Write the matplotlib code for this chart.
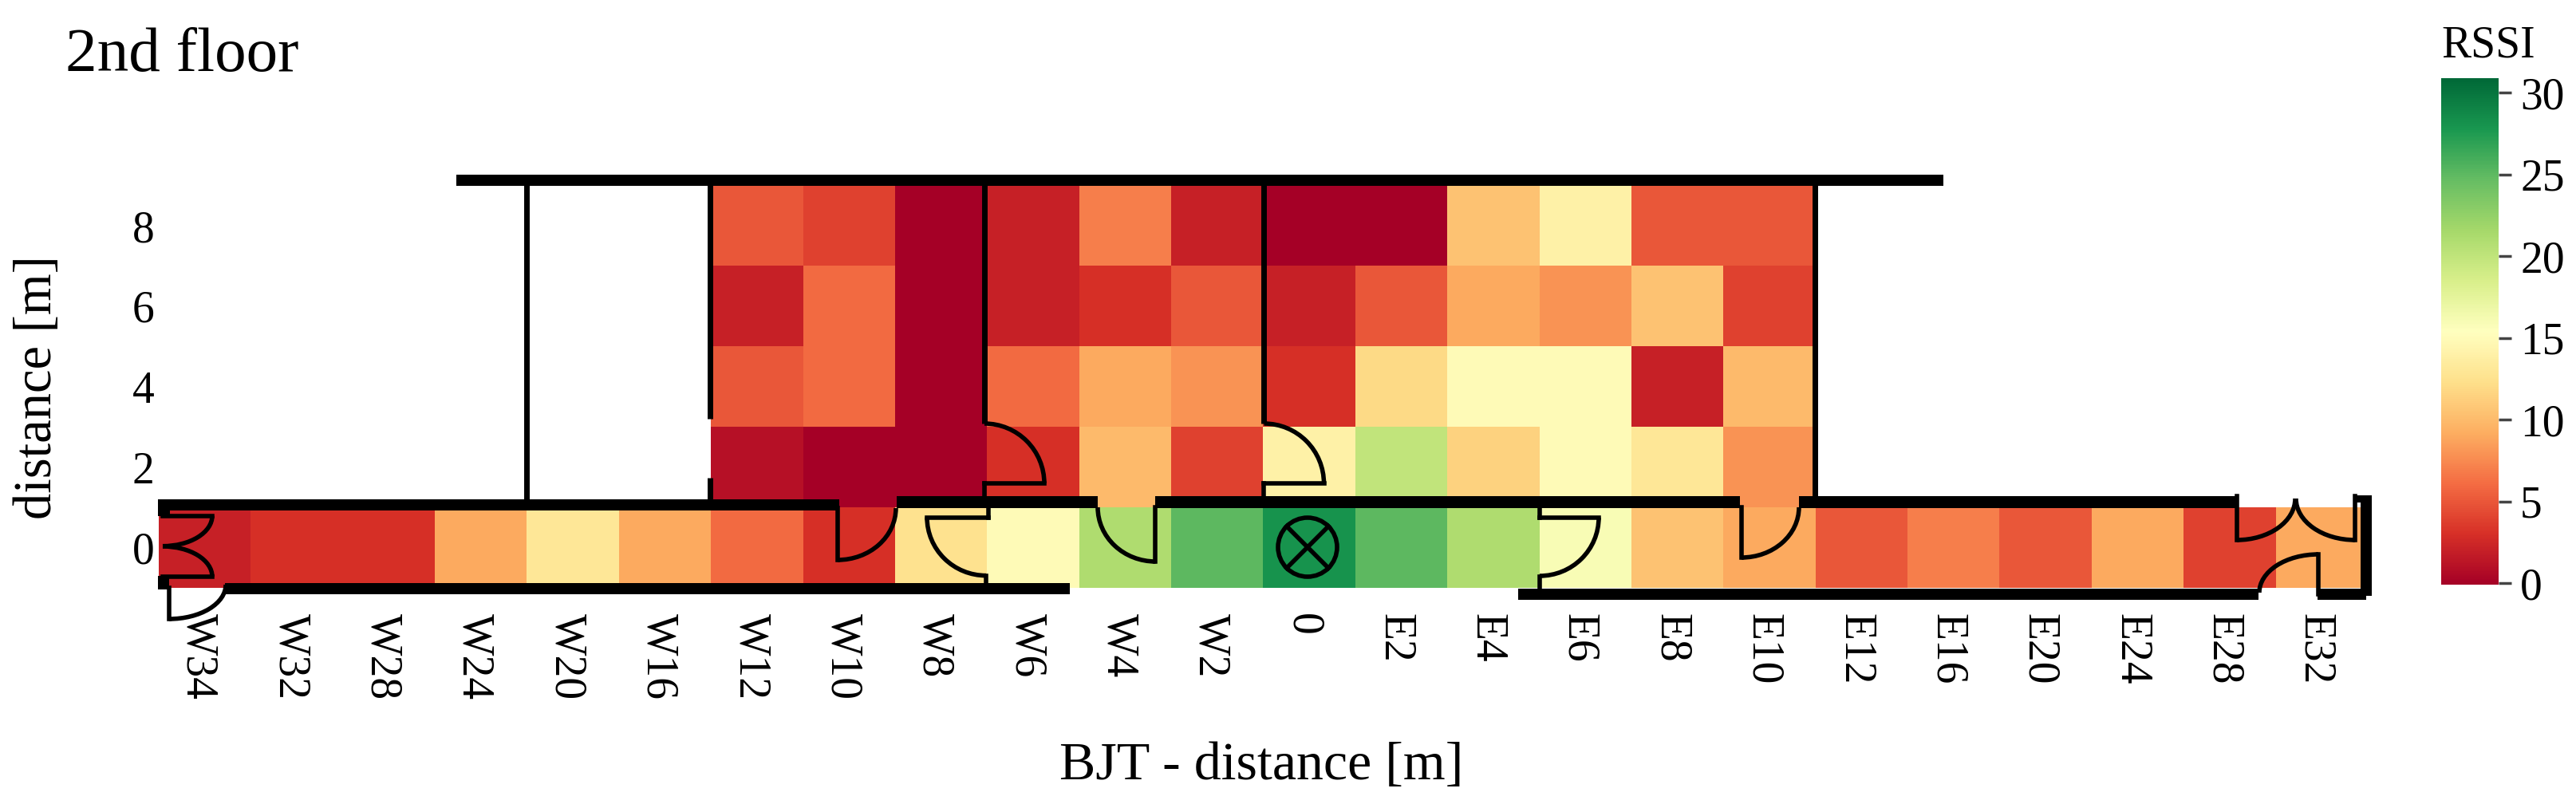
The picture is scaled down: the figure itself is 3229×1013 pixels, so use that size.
"""
RSSI heatmap of the 2nd floor with the floor plan drawn over it.
"""

import numpy as np
import matplotlib
matplotlib.use('Agg')
import matplotlib.pyplot as plt
from matplotlib.patches import Arc, Circle, Rectangle
from matplotlib.transforms import ScaledTranslation

plt.rcParams['font.family'] = ['Liberation Serif', 'DejaVu Serif']

W, H = 3230, 1013

# Data
x_labels = ['W34', 'W32', 'W28', 'W24', 'W20', 'W16', 'W12', 'W10', 'W8', 'W6', 'W4', 'W2',
            '0', 'E2', 'E4', 'E6', 'E8', 'E10', 'E12', 'E16', 'E20', 'E24', 'E28', 'E32']
y_labels = ['8', '6', '4', '2', '0']
nan = np.nan
row_8m = [nan] * 6 + [5, 4, 0, 2, 7, 2, 0, 0, 10.5, 14, 5, 5] + [nan] * 6
row_6m = [nan] * 6 + [2, 6, 0, 2, 3, 5, 2, 5, 9, 8, 10.5, 4] + [nan] * 6
row_4m = [nan] * 6 + [5, 6, 0, 6, 9, 8, 3, 12, 15, 15, 2, 10] + [nan] * 6
row_2m = [nan] * 6 + [1, 0, 0, 3, 10, 4, 14, 20, 11.5, 15, 13, 8] + [nan] * 6
row_0m = [2, 3, 3, 9, 13, 9, 6, 3, 12.5, 15, 21, 25, 28, 25, 21, 16, 10.5, 9, 5, 7, 5, 9, 4, 9]
cbar_ticks = [0, 5, 10, 15, 20, 25, 30]


def px_box(x0, y0, x1, y1):
    """Figure fractions for a box given in image pixels."""
    return [x0 / W, 1 - y1 / H, (x1 - x0) / W, (y1 - y0) / H]


fig = plt.figure(figsize=(W / 100, H / 100), dpi=100)

# Heatmap
ax = fig.add_axes(px_box(199, 232.6, 2968, 737))
values = np.ma.masked_invalid(np.array([row_8m, row_6m, row_4m, row_2m, row_0m]))
im = ax.imshow(values, cmap='RdYlGn', vmin=-0.1, vmax=30.9, aspect='auto', interpolation='nearest')
for spine in ax.spines.values():
    spine.set_visible(False)
ax.set_xticks(np.arange(len(x_labels)))
ax.set_xticklabels(x_labels, rotation=-90, fontsize=40)
ax.set_yticks(np.arange(len(y_labels)))
ax.set_yticklabels(y_labels, fontsize=40)
ax.tick_params(axis='x', length=0, pad=23)
ax.tick_params(axis='y', length=0, pad=4)
shift = ScaledTranslation(-8 / 100, 0, fig.dpi_scale_trans)
for label in ax.get_xticklabels():
    label.set_transform(label.get_transform() + shift)

fig.text(1581 / W, 1 - 977 / H, 'BJT - distance [m]', fontsize=49, ha='center', va='baseline')
fig.text(48 / W, 1 - 486 / H, 'distance [m]', fontsize=48, rotation=90, ha='center', va='center')
fig.text(82 / W, 1 - 89 / H, '2nd floor', fontsize=57, ha='left', va='baseline')
fig.text(3060 / W, 1 - 71 / H, 'RSSI', fontsize=40, ha='left', va='baseline')

# Colorbar
cax = fig.add_axes(px_box(3060, 98, 3132, 733.4))
cbar = fig.colorbar(im, cax=cax, ticks=cbar_ticks)
cbar.outline.set_visible(False)
cax.tick_params(length=11.5, width=2.5, color='#444444', pad=8, labelsize=40)

# Floor plan, in image pixels
plan = fig.add_axes([0, 0, 1, 1])
plan.set_xlim(0, W)
plan.set_ylim(H, 0)
plan.axis('off')
plan.patch.set_alpha(0)

thick_walls = [
    (572, 219, 2436, 232.6),    # top of the rooms
    (198, 626, 1052, 640),      # corridor, upper side
    (1123.7, 622, 1376, 636.7),
    (1448.5, 622, 2181, 636.7),
    (2255, 622, 2805, 636.7),
    (282, 731, 1341, 745),      # corridor, lower side
    (1903, 737.5, 2831.5, 752),
    (2905, 737.5, 2966, 752),
    (2959, 621, 2973, 747),     # east end
    (2950, 621, 2960, 630),
    (198, 626, 212.7, 646.7),   # west end stubs
    (198, 721.7, 212, 739),
]
for x0, y0, x1, y1 in thick_walls:
    plan.add_patch(Rectangle((x0, y0), x1 - x0, y1 - y0, color='black', lw=0))

room_walls = [
    (660, 232, 660, 626),
    (890, 232, 890, 525),
    (890, 599, 890, 626),
    (1234, 232, 1234, 531),
    (1584.5, 232, 1584.5, 531),
    (2275, 232, 2275, 622),
]
for x0, y0, x1, y1 in room_walls:
    plan.plot([x0, x1], [y0, y1], color='black', lw=5, solid_capstyle='butt')

door_lines = [
    (204, 646.7, 266, 646.7),
    (204, 723, 266, 723),
    (212, 737, 212, 776),
    (1050, 637, 1050, 702),
    (1239, 636, 1239, 648.6),
    (1162, 648.6, 1239, 648.6),
    (1236, 721.7, 1236, 731),
    (1448.5, 636, 1448.5, 704),
    (1930, 636, 1930, 649),
    (1930, 649, 2004, 649),
    (1930, 722.5, 1930, 738),
    (2183, 636, 2183, 699),
    (2804, 622, 2804, 677),
    (2952, 622, 2952, 677),
    (2906, 695, 2906, 745),
    (1234, 606, 1309, 606),
    (1234, 606, 1234, 622),
    (1584.5, 606, 1660, 606),
    (1584.5, 606, 1584.5, 622),
]
for x0, y0, x1, y1 in door_lines:
    plan.plot([x0, x1], [y0, y1], color='black', lw=4, solid_capstyle='projecting')

# center x, center y, x radius, y radius, start angle, end angle
door_arcs = [
    (204, 646.7, 62, 38, 0, 90),
    (204, 723, 62, 38, 270, 360),
    (212, 733, 71, 43, 0, 90),
    (1050, 637, 73, 65, 0, 90),
    (1236, 648.6, 74, 73, 90, 180),
    (1448.5, 636, 72.5, 68, 90, 180),
    (1930, 649, 74, 73, 0, 90),
    (2183, 636, 72, 63, 0, 90),
    (2804, 625, 73, 52, 0, 90),
    (2952, 625, 74, 52, 90, 180),
    (2906, 743, 74, 48, 180, 270),
    (1234, 606, 75, 75, 270, 360),
    (1584.5, 606, 75, 75, 270, 360),
]
for cx, cy, rx, ry, t0, t1 in door_arcs:
    plan.add_patch(Arc((cx, cy), 2 * rx, 2 * ry, theta1=t0, theta2=t1, color='black', lw=4))

# Transmitter symbol
tx, ty, radius = 1639, 686, 37
plan.add_patch(Circle((tx, ty), radius, fill=False, edgecolor='black', lw=4))
reach = radius * np.cos(np.pi / 4)
plan.plot([tx - reach, tx + reach], [ty - reach, ty + reach], color='black', lw=4)
plan.plot([tx - reach, tx + reach], [ty + reach, ty - reach], color='black', lw=4)

fig.savefig('out.png', dpi=100)
